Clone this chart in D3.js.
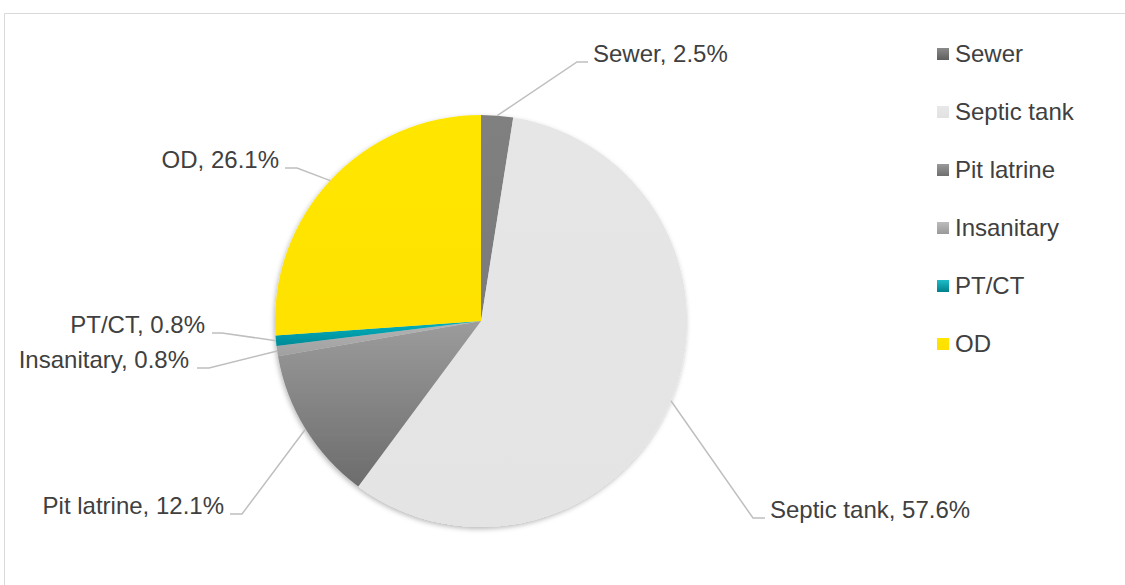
<!DOCTYPE html>
<html>
<head>
<meta charset="utf-8">
<script src="https://cdn.jsdelivr.net/npm/d3@7"></script>
<style>
  html, body { margin: 0; padding: 0; background: #ffffff; }
  svg { display: block; }
  text { font-family: "Liberation Sans", Arial, sans-serif; fill: #404040; }
</style>
</head>
<body>
<svg id="chart" width="1125" height="585"></svg>
<script>
// ---- Data ----
const categories = ["Sewer", "Septic tank", "Pit latrine", "Insanitary", "PT/CT", "OD"];
const values = [2.5, 57.6, 12.1, 0.8, 0.8, 26.1];
const labelTexts = ["Sewer, 2.5%", "Septic tank, 57.6%", "Pit latrine, 12.1%", "Insanitary, 0.8%", "PT/CT, 0.8%", "OD, 26.1%"];

// ---- Styles (colour stops: top, bottom) ----
const sliceColors = [
  ["#808080", "#7a7a7a"],
  ["#e6e6e6", "#e4e4e4"],
  ["#9c9c9c", "#6c6c6c"],
  ["#b4b4b4", "#a0a0a0"],
  ["#00b2bf", "#008a96"],
  ["#ffe600", "#ffe200"]
];
const legendColors = [
  ["#8a8a8a", "#5e5e5e"],
  ["#e8e8e8", "#e2e2e2"],
  ["#9a9a9a", "#6e6e6e"],
  ["#bcbcbc", "#999999"],
  ["#1cbcc8", "#00808c"],
  ["#ffe600", "#ffe000"]
];

// ---- Layout ----
const W = 1125, H = 585;
const cx = 481, cy = 321, R = 206;
// label layout: text position (x, baseline y), anchor, elbow x, horizontal end x
const labelLayout = [
  { x: 593, y: 62, anchor: "start", elbow: 577, hend: 588 },
  { x: 770, y: 518, anchor: "start", elbow: 753, hend: 765 },
  { x: 224, y: 514, anchor: "end", elbow: 242, hend: 230 },
  { x: 189, y: 368, anchor: "end", elbow: 209, hend: 197 },
  { x: 205, y: 333, anchor: "end", elbow: 222, hend: 212 },
  { x: 279, y: 168, anchor: "end", elbow: 297, hend: 285 }
];
const legendX = 937, legendY0 = 62, legendStep = 58, legendBox = 12;
const fontSize = 24;

const svg = d3.select("#chart");
const defs = svg.append("defs");

// Border of chart area
svg.append("path")
  .attr("d", `M4.5,${H} L4.5,13.5 L${W},13.5`)
  .attr("fill", "none")
  .attr("stroke", "#d9d9d9")
  .attr("stroke-width", 1);

// gradients
sliceColors.forEach((c, i) => {
  const g = defs.append("linearGradient").attr("id", "sg" + i)
    .attr("x1", 0).attr("y1", 0).attr("x2", 0).attr("y2", 1);
  g.append("stop").attr("offset", "0%").attr("stop-color", c[0]);
  g.append("stop").attr("offset", "100%").attr("stop-color", c[1]);
});
legendColors.forEach((c, i) => {
  const g = defs.append("linearGradient").attr("id", "lg" + i)
    .attr("x1", 0).attr("y1", 0).attr("x2", 0).attr("y2", 1);
  g.append("stop").attr("offset", "0%").attr("stop-color", c[0]);
  g.append("stop").attr("offset", "100%").attr("stop-color", c[1]);
});

const shadow = defs.append("filter").attr("id", "shadow")
  .attr("x", "-10%").attr("y", "-10%").attr("width", "120%").attr("height", "120%");
shadow.append("feDropShadow")
  .attr("dx", -1).attr("dy", 2).attr("stdDeviation", 2.5)
  .attr("flood-color", "#000").attr("flood-opacity", 0.28);

const pie = d3.pie().sort(null).value(d => d)(values);
const arc = d3.arc().innerRadius(0).outerRadius(R);

const g = svg.append("g").attr("transform", `translate(${cx},${cy})`);
const pieG = g.append("g").attr("filter", "url(#shadow)");
pieG.selectAll("path.slice")
  .data(pie)
  .join("path")
  .attr("class", "slice")
  .attr("d", arc)
  .attr("fill", (d, i) => `url(#sg${i})`);

// leader lines
pie.forEach((d, i) => {
  const a = (d.startAngle + d.endAngle) / 2;
  const px = cx + R * Math.sin(a);
  const py = cy - R * Math.cos(a);
  const L = labelLayout[i];
  svg.append("polyline")
    .attr("points", `${px},${py} ${L.elbow},${L.y} ${L.hend},${L.y}`)
    .attr("fill", "none")
    .attr("stroke", "#bfbfbf")
    .attr("stroke-width", 1.5);
  svg.append("text")
    .attr("x", L.x).attr("y", L.y)
    .attr("text-anchor", L.anchor)
    .attr("font-size", fontSize)
    .text(labelTexts[i]);
});

// legend
const leg = svg.append("g");
categories.forEach((c, i) => {
  const by = legendY0 + i * legendStep;
  leg.append("rect")
    .attr("x", legendX).attr("y", by - 14)
    .attr("width", legendBox).attr("height", legendBox)
    .attr("fill", `url(#lg${i})`);
  leg.append("text")
    .attr("x", legendX + 18).attr("y", by)
    .attr("font-size", fontSize)
    .text(c);
});
</script>
</body>
</html>
